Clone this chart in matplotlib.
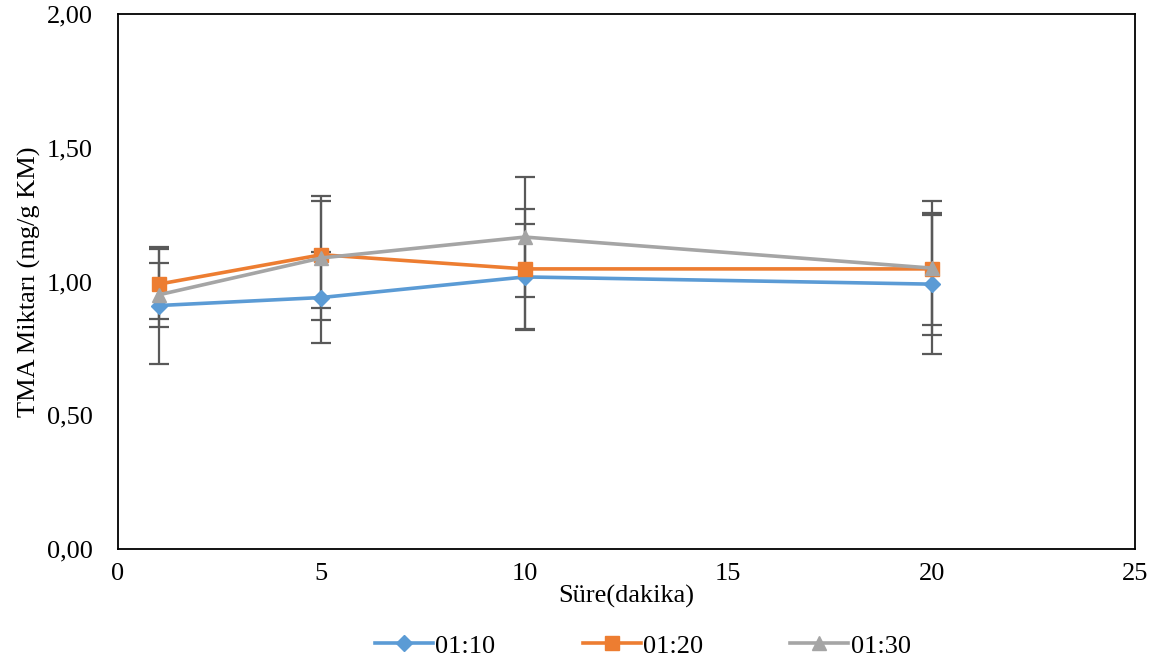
import matplotlib.pyplot as plt
from matplotlib.ticker import FuncFormatter

plt.rcParams['font.family'] = ['Liberation Serif', 'DejaVu Serif']

# sampling times (minutes)
sure = [1, 5, 10, 20]

# series means and error bars
series_names = ['01:10', '01:20', '01:30']
tma_0110 = [0.91, 0.94, 1.017, 0.99]
tma_0120 = [0.99, 1.10, 1.047, 1.047]
tma_0130 = [0.95, 1.088, 1.166, 1.05]
err_0110 = [0.22, 0.17, 0.198, 0.26]
err_0120 = [0.13, 0.20, 0.224, 0.21]
err_0130 = [0.12, 0.232, 0.225, 0.25]

colors = ['#5B9BD5', '#ED7D31', '#A5A5A5']
markers = ['D', 's', '^']
msizes = [8, 10, 10]

fig = plt.figure(figsize=(11.62, 6.67), dpi=100)
ax = fig.add_axes([0.1015, 0.177, 0.8755, 0.802])

means = [tma_0110, tma_0120, tma_0130]
errs = [err_0110, err_0120, err_0130]

# error bars first, then lines on top
for m, e in zip(means, errs):
    ax.errorbar(sure, m, yerr=e, fmt='none', ecolor='#595959', elinewidth=1.6,
                capsize=7, capthick=1.6, zorder=2)

for name, m, c, mk, ms in zip(series_names, means, colors, markers, msizes):
    ax.plot(sure, m, color=c, lw=2.6, marker=mk, markersize=ms, label=name, zorder=3)

ax.set_xlim(0, 25)
ax.set_ylim(0, 2)
ax.set_xticks([0, 5, 10, 15, 20, 25])
ax.set_yticks([0, 0.5, 1.0, 1.5, 2.0])
ax.yaxis.set_major_formatter(FuncFormatter(lambda v, p: f'{v:.2f}'.replace('.', ',')))
ax.tick_params(axis='x', length=0, labelsize=19, pad=10)
ax.tick_params(axis='y', length=0, labelsize=19, pad=18)
for s in ax.spines.values():
    s.set_color('black')
    s.set_linewidth(1.3)

ax.set_xlabel('Süre(dakika)', fontsize=19, labelpad=0)
ax.set_ylabel('TMA Miktarı (mg/g KM)', fontsize=19, labelpad=4)

ax.legend(loc='upper center', bbox_to_anchor=(0.516, -0.115), ncol=3, frameon=False,
          fontsize=19, handlelength=2.2, columnspacing=3.3, handletextpad=0.1)

fig.savefig('out.png', dpi=100)
